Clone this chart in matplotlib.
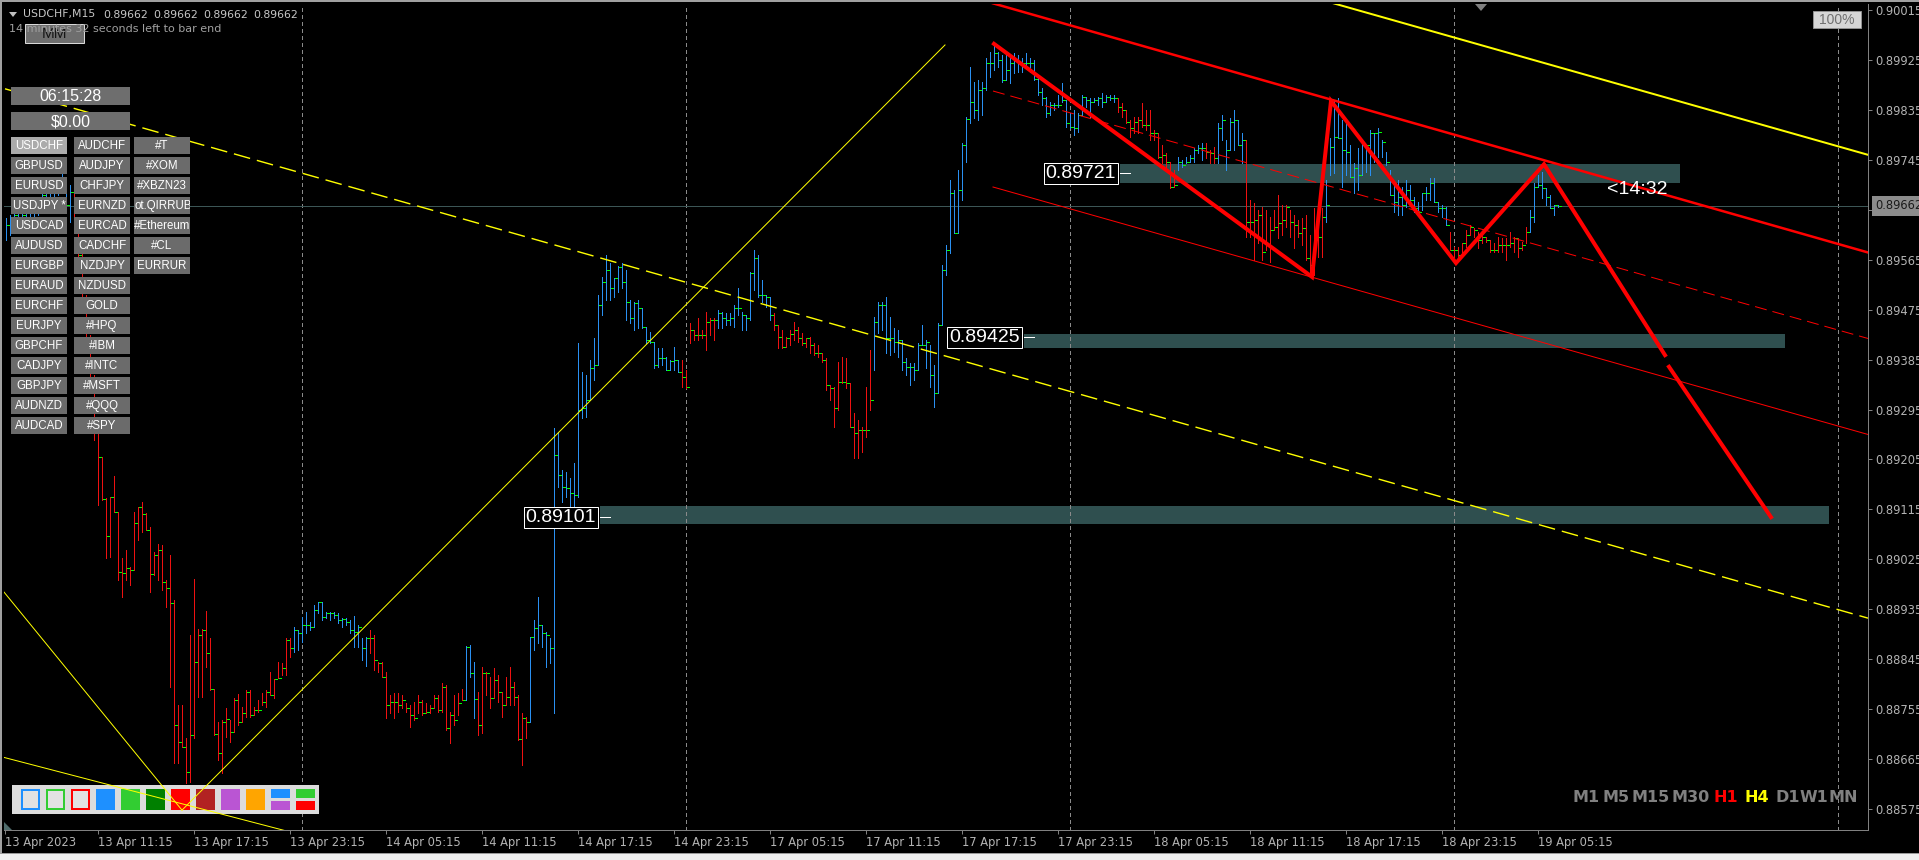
import numpy as np
import matplotlib
matplotlib.use("Agg")
import matplotlib.pyplot as plt
from matplotlib.patches import Rectangle, Polygon

W, H = 1919, 860
PX = 72 / 100  # one screen pixel in points (dpi 100)

# M15 bar index counted from 13 Apr 2023 00:00, weekend bars removed
FIRST_BAR = 22
# bar prices in points (1e-5)
bar_high = [
    89640, 89646, 89651, 89658, 89655, 89664, 89658, 89673, 89676, 89687, 89691, 89694,
    89709, 89712, 89723, 89712, 89700, 89691, 89628, 89582, 89501, 89429, 89357,
    89253, 89209, 89136, 89137, 89175, 89110, 89027, 89042, 89011, 89110,
    89119, 89128, 89109, 89083, 89038, 89053, 89051, 88988, 89033, 88952,
    88762, 88762, 88703, 88889, 88990, 88899, 88899, 88932, 88883, 88791,
    88732, 88735, 88757, 88735, 88775, 88782, 88759, 88790, 88790, 88759,
    88772, 88784, 88790, 88822, 88810, 88840, 88838, 88883, 88883, 88903,
    88898, 88921, 88930, 88912, 88943, 88948, 88948, 88930, 88930, 88930,
    88928, 88919, 88919, 88916, 88923, 88907, 88883, 88885, 88898, 88889,
    88840, 88840, 88822, 88781, 88784, 88784, 88781, 88766, 88762, 88768,
    88781, 88772, 88766, 88762, 88781, 88781, 88802, 88799, 88750, 88781,
    88784, 88791, 88869, 88871, 88840, 88786, 88831, 88822, 88813, 88829,
    88817, 88786, 88813, 88831, 88804, 88781, 88748, 88741, 88885, 88916,
    88957, 88907, 88894, 88883, 89262, 89254, 89186, 89182, 89172, 89199,
    89415, 89363, 89357, 89384, 89424, 89501, 89534, 89573, 89559, 89532,
    89554, 89559, 89546, 89492, 89489, 89492, 89478, 89444, 89435, 89417,
    89406, 89406, 89390, 89384, 89408, 89384, 89384, 89366, 89451, 89438,
    89460, 89438, 89471, 89460, 89460, 89474, 89471, 89469, 89469, 89483,
    89514, 89471, 89465, 89543, 89582, 89573, 89528, 89501, 89498, 89469,
    89447, 89438, 89426, 89438, 89453, 89444, 89433, 89424, 89426, 89415,
    89411, 89397, 89388, 89339, 89336, 89381, 89390, 89388, 89343, 89289,
    89276, 89263, 89336, 89402, 89462, 89489, 89489, 89498, 89462, 89442,
    89438, 89420, 89388, 89379, 89379, 89415, 89447, 89420, 89411, 89375,
    89451, 89555, 89592, 89709, 89691, 89727, 89775, 89822, 89912, 89885,
    89889, 89885, 89929, 89939, 89952, 89939, 89934, 89938, 89930, 89938,
    89934, 89929, 89938, 89929, 89925, 89894, 89874, 89858, 89849, 89847,
    89862, 89883, 89853, 89829, 89835, 89829, 89862, 89858, 89856, 89856,
    89858, 89865, 89862, 89862, 89862, 89856, 89847, 89835, 89817, 89822,
    89822, 89847, 89835, 89835, 89799, 89793, 89772, 89757, 89741, 89727,
    89750, 89745, 89750, 89754, 89766, 89772, 89775, 89775, 89763, 89768,
    89811, 89826, 89781, 89820, 89835, 89817, 89793, 89781, 89673, 89667,
    89655, 89660, 89655, 89642, 89655, 89682, 89664, 89664, 89655, 89646,
    89637, 89640, 89646, 89610, 89658, 89660, 89658, 89709, 89784, 89853,
    89856, 89817, 89817, 89772, 89739, 89766, 89775, 89772, 89799, 89793,
    89802, 89781, 89759, 89727, 89700, 89709, 89696, 89709, 89700, 89678,
    89669, 89685, 89696, 89712, 89712, 89669, 89664, 89660, 89615, 89588,
    89588, 89595, 89619, 89628, 89622, 89615, 89615, 89606, 89601, 89595,
    89606, 89604, 89604, 89615, 89606, 89604, 89597, 89624, 89655, 89703,
    89718, 89723, 89694, 89682, 89664, 89664,
]
bar_low = [
    89601, 89610, 89615, 89622, 89633, 89628, 89637, 89633, 89646, 89655, 89664, 89669,
    89676, 89682, 89687, 89658, 89633, 89615, 89561, 89483, 89411, 89339, 89240,
    89123, 89132, 89027, 89029, 89110, 88988, 88957, 88988, 88979, 89006,
    89060, 89074, 89078, 88966, 88997, 88988, 88970, 88939, 88795, 88658,
    88658, 88687, 88622, 88624, 88703, 88777, 88777, 88831, 88790, 88708,
    88663, 88640, 88705, 88696, 88714, 88726, 88732, 88741, 88741, 88744,
    88750, 88762, 88759, 88781, 88775, 88811, 88817, 88817, 88849, 88858,
    88862, 88876, 88892, 88898, 88903, 88928, 88916, 88919, 88916, 88919,
    88910, 88903, 88907, 88892, 88867, 88867, 88844, 88833, 88856, 88826,
    88822, 88813, 88739, 88748, 88739, 88750, 88757, 88750, 88723, 88735,
    88748, 88744, 88748, 88748, 88757, 88750, 88750, 88717, 88694, 88726,
    88744, 88772, 88772, 88813, 88739, 88708, 88712, 88781, 88757, 88775,
    88768, 88741, 88762, 88762, 88762, 88699, 88654, 88703, 88732, 88862,
    88874, 88867, 88831, 88838, 88748, 89155, 89128, 89137, 89083, 89083,
    89137, 89280, 89281, 89312, 89348, 89375, 89465, 89492, 89492, 89498,
    89507, 89514, 89456, 89451, 89438, 89442, 89442, 89415, 89415, 89370,
    89372, 89375, 89366, 89366, 89366, 89363, 89336, 89334, 89415, 89420,
    89420, 89424, 89402, 89429, 89420, 89442, 89442, 89447, 89447, 89444,
    89465, 89438, 89438, 89456, 89510, 89498, 89489, 89480, 89456, 89438,
    89406, 89406, 89408, 89411, 89420, 89417, 89411, 89408, 89397, 89393,
    89390, 89381, 89330, 89312, 89263, 89294, 89343, 89334, 89263, 89208,
    89208, 89218, 89245, 89294, 89366, 89433, 89438, 89397, 89393, 89399,
    89390, 89366, 89357, 89339, 89348, 89366, 89411, 89370, 89336, 89300,
    89325, 89447, 89537, 89577, 89613, 89613, 89673, 89741, 89811, 89820,
    89817, 89826, 89871, 89894, 89907, 89912, 89885, 89889, 89883, 89901,
    89903, 89903, 89912, 89903, 89889, 89862, 89844, 89822, 89826, 89835,
    89840, 89849, 89804, 89802, 89790, 89795, 89826, 89840, 89822, 89849,
    89844, 89840, 89849, 89853, 89849, 89831, 89822, 89811, 89786, 89793,
    89793, 89804, 89799, 89781, 89781, 89748, 89739, 89732, 89694, 89696,
    89727, 89732, 89739, 89741, 89741, 89757, 89745, 89748, 89739, 89739,
    89739, 89781, 89727, 89763, 89763, 89772, 89739, 89606, 89606, 89564,
    89595, 89564, 89582, 89561, 89619, 89604, 89610, 89624, 89606, 89586,
    89606, 89592, 89564, 89543, 89537, 89570, 89570, 89633, 89718, 89721,
    89784, 89696, 89718, 89714, 89685, 89691, 89718, 89723, 89718, 89741,
    89750, 89750, 89736, 89682, 89651, 89646, 89646, 89660, 89667, 89651,
    89651, 89655, 89673, 89673, 89669, 89651, 89642, 89628, 89582, 89570,
    89568, 89577, 89588, 89610, 89606, 89586, 89595, 89597, 89579, 89579,
    89579, 89579, 89564, 89588, 89579, 89570, 89582, 89595, 89615, 89633,
    89696, 89676, 89664, 89658, 89646, 89660,
]
bar_close = [
    89628, 89637, 89646, 89651, 89646, 89655, 89651, 89664, 89673, 89682, 89676, 89687,
    89700, 89705, 89709, 89664, 89687, 89622, 89573, 89496, 89424, 89352, 89254,
    89209, 89134, 89067, 89137, 89110, 89002, 89000, 89009, 89006, 89090,
    89119, 89107, 89078, 88999, 89033, 89042, 88984, 88973, 88946, 88726,
    88696, 88687, 88642, 88708, 88840, 88889, 88898, 88856, 88791, 88710,
    88676, 88732, 88737, 88714, 88772, 88732, 88748, 88786, 88744, 88753,
    88753, 88768, 88786, 88781, 88809, 88811, 88829, 88880, 88865, 88898,
    88892, 88907, 88907, 88903, 88934, 88948, 88921, 88928, 88928, 88925,
    88916, 88917, 88912, 88898, 88894, 88903, 88865, 88883, 88883, 88844,
    88838, 88813, 88762, 88768, 88768, 88762, 88772, 88757, 88744, 88739,
    88768, 88748, 88750, 88757, 88775, 88753, 88795, 88721, 88744, 88735,
    88766, 88772, 88867, 88820, 88773, 88726, 88820, 88820, 88775, 88808,
    88786, 88762, 88777, 88795, 88777, 88701, 88739, 88732, 88885, 88901,
    88907, 88892, 88889, 88865, 89213, 89177, 89155, 89154, 89145, 89141,
    89294, 89298, 89312, 89370, 89375, 89483, 89525, 89546, 89514, 89532,
    89552, 89525, 89489, 89460, 89487, 89478, 89444, 89420, 89417, 89375,
    89388, 89388, 89366, 89382, 89384, 89363, 89354, 89336, 89438, 89429,
    89429, 89429, 89453, 89456, 89456, 89469, 89460, 89456, 89460, 89478,
    89478, 89465, 89460, 89541, 89568, 89501, 89501, 89498, 89465, 89447,
    89426, 89408, 89424, 89431, 89438, 89424, 89415, 89424, 89411, 89397,
    89397, 89384, 89339, 89334, 89298, 89345, 89345, 89343, 89263, 89253,
    89258, 89258, 89258, 89312, 89453, 89483, 89483, 89424, 89424, 89417,
    89420, 89381, 89372, 89372, 89366, 89411, 89411, 89417, 89357, 89325,
    89447, 89546, 89582, 89685, 89613, 89691, 89772, 89819, 89849, 89835,
    89871, 89874, 89919, 89919, 89938, 89925, 89889, 89907, 89919, 89925,
    89921, 89919, 89919, 89919, 89891, 89867, 89856, 89829, 89844, 89844,
    89844, 89853, 89811, 89804, 89802, 89826, 89858, 89853, 89849, 89853,
    89856, 89849, 89858, 89856, 89856, 89840, 89835, 89813, 89802, 89813,
    89817, 89808, 89808, 89793, 89793, 89750, 89754, 89741, 89696, 89700,
    89741, 89736, 89741, 89748, 89763, 89766, 89766, 89759, 89757, 89748,
    89802, 89817, 89763, 89813, 89817, 89772, 89781, 89633, 89633, 89637,
    89646, 89579, 89592, 89619, 89624, 89631, 89637, 89660, 89633, 89628,
    89613, 89622, 89568, 89555, 89601, 89606, 89642, 89664, 89768, 89786,
    89784, 89763, 89759, 89714, 89730, 89718, 89772, 89772, 89793, 89793,
    89795, 89777, 89741, 89682, 89669, 89678, 89664, 89691, 89673, 89658,
    89651, 89685, 89685, 89703, 89669, 89658, 89658, 89628, 89582, 89582,
    89573, 89595, 89610, 89624, 89619, 89601, 89606, 89601, 89582, 89582,
    89592, 89592, 89592, 89595, 89604, 89586, 89592, 89615, 89642, 89696,
    89700, 89694, 89678, 89658, 89664, 89662,
]
# colour runs of the bars (trend colouring): first bar of each run
run_start = [22, 39, 94, 113, 137, 140, 153, 191, 200, 214, 239, 300, 315, 322, 325, 332, 352, 383, 403]
run_kind = ['up', 'dn', 'up', 'dn', 'up', 'dn', 'up', 'dn', 'up', 'dn',
            'up', 'dn', 'up', 'dn', 'up', 'dn', 'up', 'dn', 'up']

bid = 0.89662
header_parts = ['USDCHF,M15', '0.89662', '0.89662', '0.89662', '0.89662']
price_ticks = [0.90015, 0.89925, 0.89835, 0.89745, 0.89655, 0.89565, 0.89475, 0.89385, 0.89295,
               0.89205, 0.89115, 0.89025, 0.88935, 0.88845, 0.88755, 0.88665, 0.88575]
time_ticks = [21.75, 45, 69, 93, 117, 141, 165, 189, 213, 237, 261, 285, 309, 333, 357, 381, 405]
time_labels = ['13 Apr 2023', '13 Apr 11:15', '13 Apr 17:15', '13 Apr 23:15', '14 Apr 05:15',
               '14 Apr 11:15', '14 Apr 17:15', '14 Apr 23:15', '17 Apr 05:15', '17 Apr 11:15',
               '17 Apr 17:15', '17 Apr 23:15', '18 Apr 05:15', '18 Apr 11:15', '18 Apr 17:15',
               '18 Apr 23:15', '19 Apr 05:15']
day_starts = [96, 192, 288, 384, 480]

# horizontal zones
zone_price = [0.89721, 0.89425, 0.89101]
zone_left = [300.5, 276.5, 170.5]
zone_right = [440.5, 466.75, 477.75]
zone_low = [0.89703, 0.89406, 0.89089]
zone_high = [0.89737, 0.89431, 0.89121]

# trend lines (bar, price)
rise_t, rise_p = [66, 256.75], [0.88573, 0.89952]
fall_t, fall_p = [21.5, 66], [0.88966, 0.88573]
base_t, base_p = [21.5, 95], [0.88668, 0.88530]
dash_t, dash_p = [21.75, 487.5], [0.89873, 0.88919]
top_t, top_p = [350, 487.5], [0.90035, 0.89754]
ch_t = [268.75, 487.5]
ch_up = [0.90027, 0.89578]
ch_mid = [0.89869, 0.89423]
ch_low = [0.89696, 0.89250]
zig_t = [269, 348.5, 353.25, 384.5, 406.5, 436.75]
zig_p = [0.89954, 0.89534, 0.89851, 0.89559, 0.89737, 0.89393]
proj_t, proj_p = [437.75, 463.25], [0.89372, 0.89101]

symbols = [
    ['USDCHF', 'GBPUSD', 'EURUSD', 'USDJPY *', 'USDCAD', 'AUDUSD', 'EURGBP', 'EURAUD',
     'EURCHF', 'EURJPY', 'GBPCHF', 'CADJPY', 'GBPJPY', 'AUDNZD', 'AUDCAD'],
    ['AUDCHF', 'AUDJPY', 'CHFJPY', 'EURNZD', 'EURCAD', 'CADCHF', 'NZDJPY', 'NZDUSD',
     'GOLD', '#HPQ', '#IBM', '#INTC', '#MSFT', '#QQQ', '#SPY'],
    ['#T', '#XOM', '#XBZN23', 'ot.QIRRUB', '#Ethereum', '#CL', 'EURRUR'],
]
timeframes = ['M1', 'M5', 'M15', 'M30', 'H1', 'H4', 'D1', 'W1', 'MN']
tf_colors = ['#808080'] * 4 + ['#ff0000', '#ffff00'] + ['#808080'] * 3
swatches = ['#1e90ff', '#32cd32', '#ff0000', '#1e90ff', '#32cd32', '#008000', '#ff0000',
            '#b22222', '#ba55d3', '#ffa500', ('#1e90ff', '#ba55d3'), ('#32cd32', '#ff0000')]

plt.rcParams['font.family'] = 'DejaVu Sans'

t = np.arange(FIRST_BAR, FIRST_BAR + len(bar_close))
assert len(bar_high) == len(bar_low) == len(bar_close)
hi = np.array(bar_high) / 1e5
lo = np.array(bar_low) / 1e5
cl = np.array(bar_close) / 1e5
kind = np.array(run_kind)[np.searchsorted(run_start, t, side='right') - 1]
cols = np.where(kind == 'up', '#2a90f2', '#ee1111')

fig = plt.figure(figsize=(W / 100, H / 100), dpi=100, facecolor='black')
ax = fig.add_axes([4 / W, 30 / H, 1864 / W, 826 / H])
ax.set_facecolor('black')
ax.set_xlim(21.5, 487.5)
ax.set_ylim(0.885372, 0.900258)

for s in ['left', 'top']:
    ax.spines[s].set_visible(False)
for s in ['right', 'bottom']:
    ax.spines[s].set_color('#808080')
    ax.spines[s].set_linewidth(PX)

ax.yaxis.tick_right()
ax.set_yticks(price_ticks)
ax.set_yticklabels([f'{p:.5f}' for p in price_ticks])
ax.set_xticks(time_ticks)
ax.set_xticklabels(time_labels)
for lbl in ax.get_xticklabels():
    lbl.set_ha('left')
ax.tick_params(axis='both', colors='#808080', labelcolor='#b4b4b4', labelsize=8.3,
               length=4 * PX, width=PX, direction='out')
ax.tick_params(axis='x', pad=1.5)
ax.tick_params(axis='y', pad=2.5)

# zones
for l, r, p0, p1 in zip(zone_left, zone_right, zone_low, zone_high):
    ax.add_patch(Rectangle((l, p0), r - l, p1 - p0, fc='#2f4f4f', ec='none', zorder=1))

for d in day_starts:
    ax.axvline(d, color='#8a8a8a', lw=PX, dashes=(3, 3), zorder=2, antialiased=False)
ax.axhline(bid, color='#3c5656', lw=PX, zorder=2)

# bars
ax.vlines(t, lo, hi, colors=cols, lw=PX, zorder=3, antialiased=False)
ax.hlines(cl, t + 0.15, t + 0.75, colors='#00ff00', lw=PX, zorder=3.1, antialiased=False)

ftr = fig.transFigure


def fig_rect(x, y, w, h, target=None, **kw):
    r = Rectangle((x / W, 1 - (y + h) / H), w / W, h / H, transform=ftr, **kw)
    if target is None:
        fig.add_artist(r)
    else:
        target.add_patch(r)
    return r


# colour panel (sits under the trend lines)
fig_rect(12, 785, 307, 29, target=ax, fc='#dcdcdc', ec='none', zorder=3.5)
for i, c in enumerate(swatches):
    x = 21 + 25 * i
    if isinstance(c, tuple):
        fig_rect(x, 789, 19, 9, target=ax, fc=c[0], ec='none', zorder=3.6)
        fig_rect(x, 801, 19, 9, target=ax, fc=c[1], ec='none', zorder=3.6)
    elif i < 3:
        fig_rect(x + 1, 790, 17, 19, target=ax, fc='#e2e2e2', ec=c, lw=2 * PX, zorder=3.6)
    else:
        fig_rect(x, 789, 19, 21, target=ax, fc=c, ec='none', zorder=3.6)

# trend lines
thin = dict(color='#ffff00', lw=PX, zorder=4)
ax.plot(rise_t, rise_p, **thin)
ax.plot(fall_t, fall_p, **thin)
ax.plot(base_t, base_p, **thin)
ax.plot(dash_t, dash_p, color='#ffff00', lw=1.4 * PX, dashes=(12, 5), zorder=4)
ax.plot(top_t, top_p, color='#ffff00', lw=2 * PX, zorder=4)
ax.plot(ch_t, ch_up, color='#ff0000', lw=2.5 * PX, zorder=4)
ax.plot(ch_t, ch_mid, color='#ff0000', lw=PX, dashes=(12, 6), zorder=4)
ax.plot(ch_t, ch_low, color='#ff0000', lw=PX, zorder=4)
ax.plot(zig_t, zig_p, color='#ff0000', lw=4 * PX, zorder=5, solid_joinstyle='miter')
ax.plot(proj_t, proj_p, color='#ff0000', lw=4 * PX, zorder=5)

for l, p in zip(zone_left, zone_price):
    ax.annotate(f'{p:.5f}', xy=(l, p), xytext=(-4, 0), textcoords='offset pixels',
                ha='right', va='center', color='white', fontsize=14, family='Liberation Sans',
                bbox=dict(boxstyle='square,pad=0.1', fc='black', ec='white', lw=PX), zorder=6)
    ax.plot([l, l + 2.6], [p, p], color='white', lw=PX, zorder=6)

ax.text(422.25, 0.89691, '<14:32', color='white', fontsize=14, family='Liberation Sans',
        ha='left', va='center', zorder=6)

ax.annotate(f'{bid:.5f}', xy=(1, bid), xycoords=('axes fraction', 'data'), xytext=(7, 0),
            textcoords='offset pixels', ha='left', va='center', fontsize=8.3, color='#1a1a1a',
            bbox=dict(boxstyle='square,pad=0.3', fc='#8c8c8c', ec='none'),
            annotation_clip=False, zorder=10)

# window frame and status strip
fig_rect(0, 0, W, 2, fc='#a0a0a0', ec='none')
fig_rect(0, 0, 2, 853, fc='#a0a0a0', ec='none')
fig_rect(0, 853, W, 7, fc='#f0f0f0', ec='none')
fig_rect(0, 853, W, 1, fc='#9a9a9a', ec='none')
fig.add_artist(Polygon([(1475 / W, 1 - 4 / H), (1487 / W, 1 - 4 / H), (1481 / W, 1 - 11 / H)],
                       closed=True, transform=ftr, fc='#808080', ec='none'))
fig.add_artist(Polygon([(4 / W, 1 - 822 / H), (4 / W, 1 - 830 / H), (12 / W, 1 - 830 / H)],
                       closed=True, transform=ftr, fc='#4f6b6b', ec='none'))


def fig_text(x, y, s, **kw):
    return fig.text(x / W, 1 - y / H, s, **kw)


# header
fig.add_artist(Polygon([(9 / W, 1 - 12 / H), (17 / W, 1 - 12 / H), (13 / W, 1 - 17 / H)],
                       closed=True, transform=ftr, fc='#c0c0c0', ec='none'))
for x, s in zip([23, 103, 153, 203, 253], header_parts):
    fig_text(x, 14.5, s, color='#c8c8c8', fontsize=7.8, va='center')
fig_rect(25, 24, 59, 19, fc='#6e6e6e', ec='#d8d8d8', lw=PX)
fig_text(54.5, 34, 'MM', color='#151515', fontsize=11, family='Liberation Sans',
         ha='center', va='center')
fig_text(9, 29, '14 minutes 32 seconds left to bar end', color='#a0a0a0', fontsize=8,
         va='center')

fig_rect(11, 87, 119, 18, fc='#6e6e6e', ec='none')
fig_text(70.5, 96.5, '06:15:28', color='white', fontsize=11.5, family='Liberation Sans',
         ha='center', va='center')
fig_rect(11, 112, 119, 18, fc='#6e6e6e', ec='none')
fig_text(70.5, 121.5, '$0.00', color='white', fontsize=11.5, family='Liberation Sans',
         ha='center', va='center')

col_x = [11, 74, 134]
for ci, names in enumerate(symbols):
    for ri, name in enumerate(names):
        x, y = col_x[ci], 137 + 20 * ri
        fc = '#ababab' if name == 'USDCHF' else '#6b6b6b'
        r = fig_rect(x, y, 56, 17, fc=fc, ec='none')
        if name.startswith('ot.'):
            tx = fig_text(x, y + 9, name, color='white', fontsize=8.3,
                          family='Liberation Sans', ha='left', va='center')
        else:
            tx = fig_text(x + 28, y + 9, name, color='white', fontsize=8.3,
                          family='Liberation Sans', ha='center', va='center')
        tx.set_clip_path(r)

# timeframe switch
tf_x = [1572, 1602, 1631, 1671, 1713, 1744, 1775, 1800, 1828]
for x, s, c in zip(tf_x, timeframes, tf_colors):
    fig_text(x, 798, s, color=c, fontsize=11.5, fontweight='bold', va='center')

fig_rect(1813, 11, 48, 17, fc='#d6d6d6', ec='#909090', lw=PX)
fig_text(1837, 19.5, '100%', color='#707070', fontsize=10, family='Liberation Sans',
         ha='center', va='center')

fig.savefig('out.png', dpi=100, facecolor='black')
